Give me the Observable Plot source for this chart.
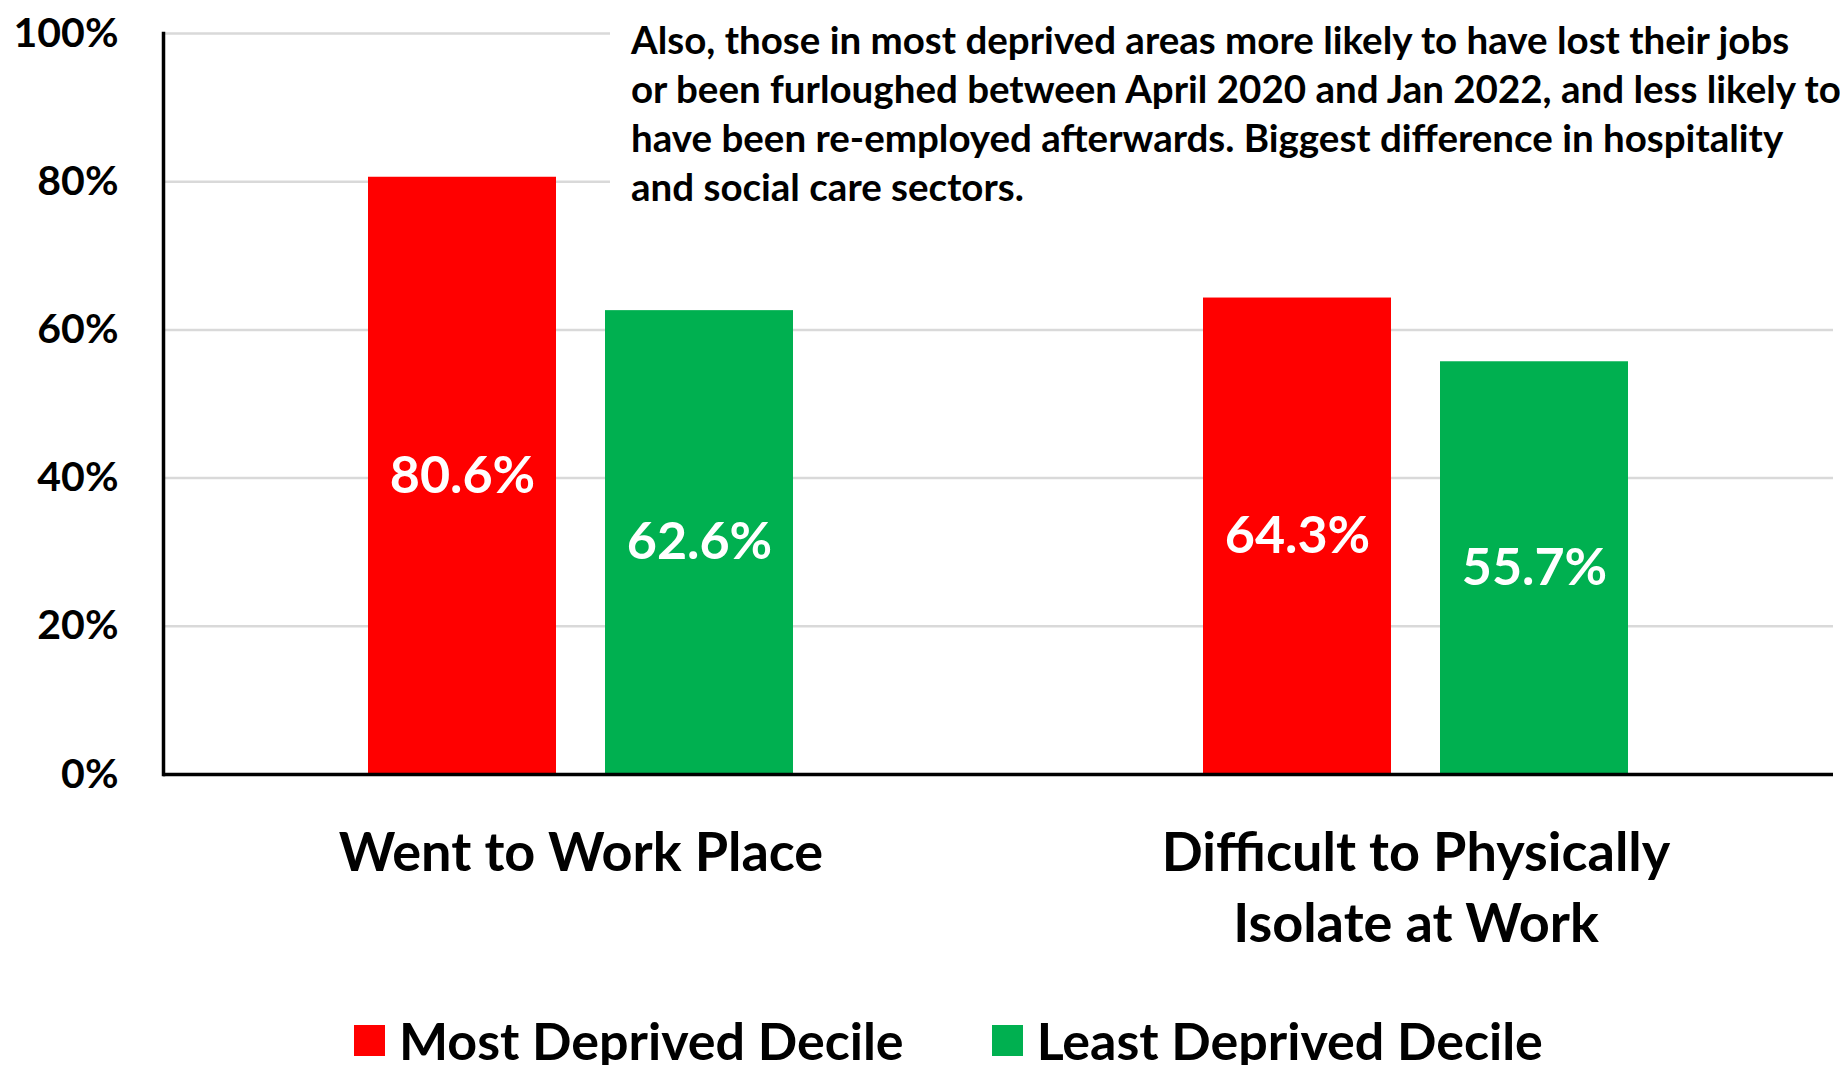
<!DOCTYPE html>
<html><head><meta charset="utf-8">
<script src="https://cdn.jsdelivr.net/npm/d3@7"></script>
<script src="https://cdn.jsdelivr.net/npm/@observablehq/plot@0.6"></script>
<style>
html,body{margin:0;padding:0;background:#fff;overflow:hidden;}
#wrap{position:relative;width:1840px;height:1065px;font-family:Lato,sans-serif;}
#note{position:absolute;left:610px;top:0;width:1230px;height:212px;background:#fff;padding-left:21px;box-sizing:border-box;padding-top:15px;font-weight:700;font-size:38.5px;line-height:49px;white-space:nowrap;color:#000;}
#legend{position:absolute;top:1010px;left:354px;display:flex;align-items:center;height:60px;font-weight:700;font-size:52px;color:#000;}
#legend .item{display:flex;align-items:center;margin-right:88px;}
#legend .sw{width:31px;height:31px;display:inline-block;margin-right:14px;}
</style></head>
<body><div id="wrap"><div id="chart"></div><div id="note"></div><div id="legend"></div></div>
<script>
const categories = ["Went to Work Place", "Difficult to Physically\nIsolate at Work"];
const series = ["Most Deprived Decile", "Least Deprived Decile"];
const mostDeprived = [80.6, 64.3];
const leastDeprived = [62.6, 55.7];
const yTicks = [0, 20, 40, 60, 80, 100];
const seriesColors = ["#FF0000", "#00B050"];
const noteLines = [
  "Also, those in most deprived areas more likely to have lost their jobs",
  "or been furloughed between April 2020 and Jan 2022, and less likely to",
  "have been re-employed afterwards. Biggest difference in hospitality",
  "and social care sectors."
];

const rows = categories.flatMap((c, i) => [
  {category: c, series: series[0], value: mostDeprived[i]},
  {category: c, series: series[1], value: leastDeprived[i]}
]);

const chart = Plot.plot({
  width: 1840, height: 975,
  marginTop: 33, marginBottom: 201, marginLeft: 162, marginRight: 7,
  style: {fontFamily: "Lato, sans-serif", color: "black", background: "white"},
  fx: {domain: categories, padding: 0, axis: null},
  x: {domain: series, paddingInner: 0.206, paddingOuter: 0.858, axis: null},
  y: {domain: [0, 100], axis: null},
  color: {domain: series, range: seriesColors},
  marks: [
    Plot.ruleY(yTicks.filter(d => d > 0), {stroke: "#d9d9d9", strokeWidth: 2.5}),
    Plot.barY(rows, {fx: "category", x: "series", y: "value", fill: "series"}),
    Plot.text(rows, {fx: "category", x: "series", y: d => d.value / 2, text: d => d.value.toFixed(1) + "%", fill: "white", fontSize: 52, fontWeight: "bold"}),
    Plot.ruleY([0], {stroke: "black", strokeWidth: 3.5}),
    Plot.frame({anchor: "left", facetAnchor: "left", stroke: "black", strokeWidth: 3.5}),
    Plot.axisY({ticks: yTicks, tickFormat: d => d + "%", tickSize: 0, tickPadding: 45, fontSize: 41, fontWeight: "bold", fill: "black", label: null}),
    Plot.text(categories, {fx: d => d, frameAnchor: "bottom", lineAnchor: "top", dy: 45, fontSize: 54, fontWeight: "bold", lineHeight: 1.33, fill: "black"})
  ]
});
document.getElementById("chart").appendChild(chart);

const note = document.getElementById("note");
note.innerHTML = noteLines.map(l => `<div>${l}</div>`).join("");

const legend = document.getElementById("legend");
legend.innerHTML = series.map((s, i) => `<span class="item"><span class="sw" style="background:${seriesColors[i]}"></span>${s}</span>`).join("");
</script>
</body></html>
